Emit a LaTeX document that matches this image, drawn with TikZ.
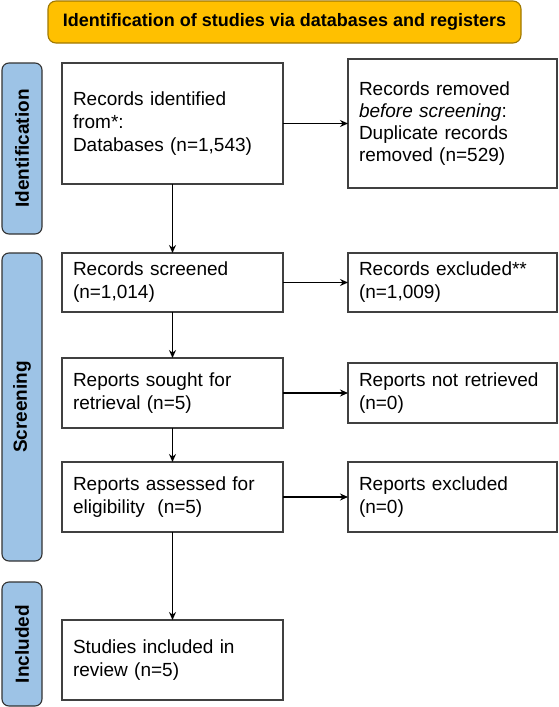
\documentclass[tikz,border=0pt]{standalone}
\usepackage{fontspec}
\setmainfont{Liberation Sans}
\usetikzlibrary{positioning, arrows.meta}
\definecolor{titlefill}{HTML}{FFC000}
\definecolor{titleline}{HTML}{A07800}
\definecolor{sidefill}{HTML}{9DC3E6}
\definecolor{boxline}{HTML}{404040}
\tikzset{
  >={Stealth[length=8pt, width=7pt]},
  x=1pt, y=-1pt,
  every node/.style={outer sep=0pt, font=\fontsize{19}{23}\selectfont},
  box/.style={draw=boxline, line width=1.4pt, fill=white, align=left,
    inner xsep=11pt, inner ysep=0pt},
  leftbox/.style={box, text width=199pt, minimum width=221pt},
  rightbox/.style={box, text width=187pt, minimum width=209pt},
  sidebox/.style={draw=black!80, line width=1.1pt, fill=sidefill, rounded corners=7pt,
    rotate=90, minimum height=40pt, inner sep=0pt,
    font=\fontsize{19}{23}\selectfont\bfseries},
  titlebox/.style={draw=titleline, line width=1.1pt, fill=titlefill, rounded corners=8pt,
    minimum width=473pt, minimum height=42pt,
    font=\fontsize{18}{22}\selectfont\bfseries},
  flow/.style={->, line width=1.3pt},
}
\begin{document}
\begin{tikzpicture}
        \useasboundingbox (0,0) rectangle (558,707);

        % header and phases
        \node[titlebox] (title) at (284.5,22) {Identification of studies via databases and registers};
        \node[sidebox, minimum width=171pt] (ident) at (22,148.5) {Identification};
        \node[sidebox, minimum width=308pt] (screen) at (22,407) {Screening};
        \node[sidebox, minimum width=124pt] (incl) at (22,644) {Included};

        % main column
        \node[leftbox, minimum height=121pt] (found) at (172.5,123.5)
          {Records identified\\from*:\\Databases (n=1,543)};
        \node[leftbox, minimum height=59pt, below=69pt of found] (screened)
          {Records screened\\(n=1,014)};
        \node[leftbox, minimum height=70pt, below=46pt of screened] (sought)
          {Reports sought for\\retrieval (n=5)};
        \node[leftbox, minimum height=70pt, below=34pt of sought] (assessed)
          {Reports assessed for\\eligibility~ (n=5)};
        \node[leftbox, minimum height=80pt, below=88pt of assessed] (included)
          {Studies included in\\review (n=5)};

        % side column
        \node[rightbox, minimum height=129pt, right=65pt of found, font=\fontsize{19}{22}\selectfont] (removed)
          {Records removed\\\textit{before screening}:\\Duplicate records\\removed (n=529)};
        \node[rightbox, minimum height=59pt, right=65pt of screened] (excluded)
          {Records excluded**\\(n=1,009)};
        \node[rightbox, minimum height=60pt, right=65pt of sought] (notret)
          {Reports not retrieved\\(n=0)};
        \node[rightbox, minimum height=70pt, right=65pt of assessed] (repexcl)
          {Reports excluded\\(n=0)};

        % arrows
        \draw[flow] (found) -- (screened);
        \draw[flow] (screened) -- (sought);
        \draw[flow] (sought) -- (assessed);
        \draw[flow] (assessed) -- (included);
        \draw[flow] (found) -- (removed);
        \draw[flow] (screened) -- (excluded);
        \draw[flow] (sought) -- (notret);
        \draw[flow] (assessed) -- (repexcl);

\end{tikzpicture}
\end{document}
